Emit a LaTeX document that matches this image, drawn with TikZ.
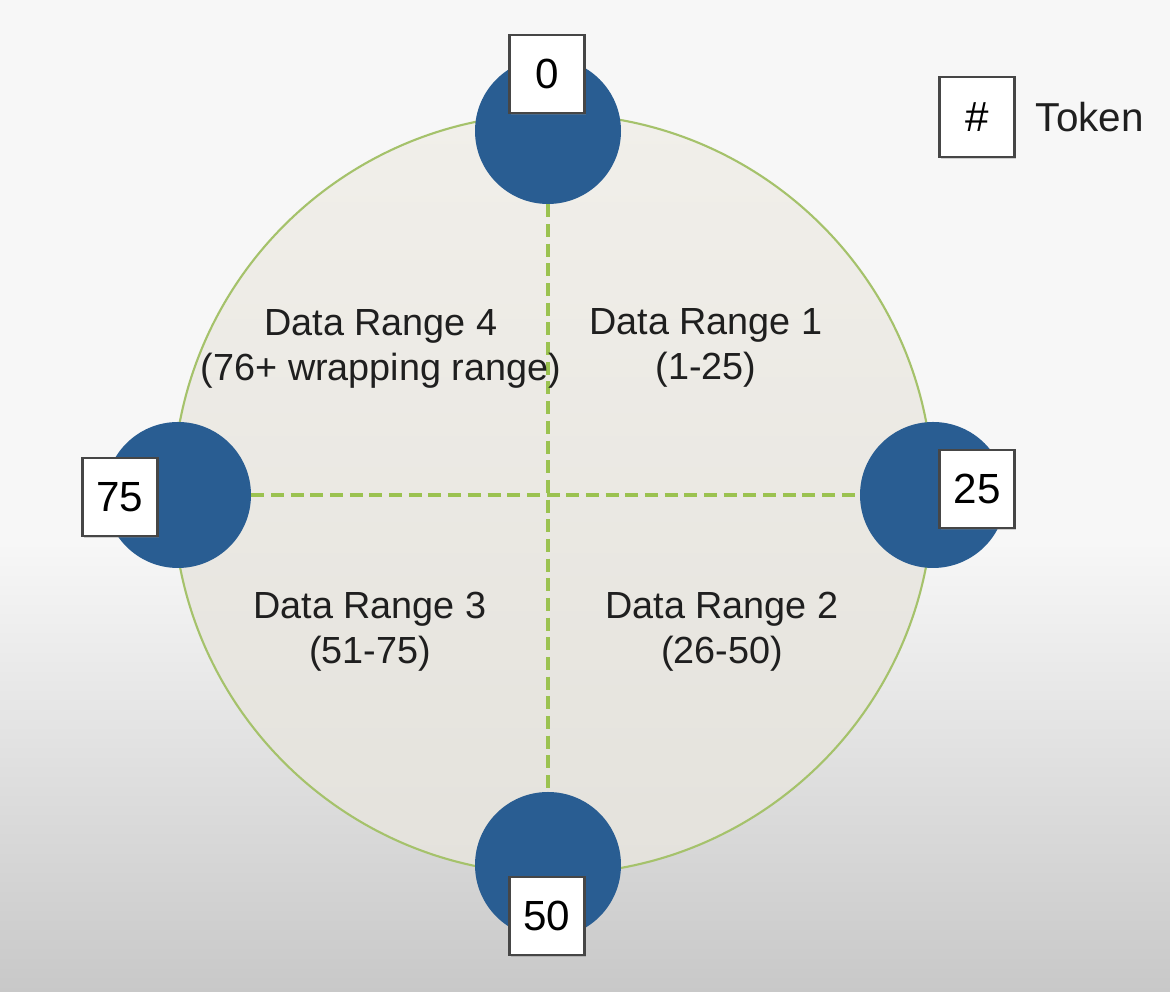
\documentclass[tikz,border=0pt]{standalone}
\usepackage{fontspec}
\setmainfont{Liberation Sans}
\usetikzlibrary{positioning,shadows}
\definecolor{bgTop}{RGB}{247,247,247}
\definecolor{bgLow}{RGB}{200,200,200}
\definecolor{ringTop}{RGB}{241,239,234}
\definecolor{ringLow}{RGB}{228,226,220}
\definecolor{ringLine}{RGB}{165,194,107}
\definecolor{cDash}{RGB}{155,194,80}
\definecolor{cNode}{RGB}{41,93,146}
\definecolor{cBox}{RGB}{70,70,70}
\tikzset{
  vnode/.style={circle,fill=cNode,minimum size=2.92cm,inner sep=0pt},
  tokbox/.style={draw=cBox,line width=1.2pt,fill=white,minimum width=1.5cm,minimum height=1.56cm,
    inner sep=0pt,font=\fontsize{24}{28}\selectfont,
    drop shadow={opacity=0.35,shadow xshift=0.7pt,shadow yshift=-0.9pt}},
  rangetext/.style={align=center,font=\fontsize{21.5}{25.6}\selectfont,text=black!88},
  dashline/.style={cDash,line width=2.8pt,dash pattern=on 7.4pt off 3.8pt},
}

\begin{document}
\begin{tikzpicture}
  \useasboundingbox (0,0) rectangle (23.4,19.84);
  % backdrop, light on top and greyer towards the bottom
  \fill[bgTop] (0,0) rectangle (23.4,19.84);
  \shade[top color=bgTop,bottom color=bgLow] (0,0) rectangle (23.4,9);
  % the ring
  \shade[top color=ringTop,bottom color=ringLow,draw=ringLine,line width=1.2pt]
    (11.06,9.96) circle (7.6);
  % token holders on the ring
  \node[vnode] (n0)  at (10.96,17.22) {};
  \node[vnode] (n25) at (18.66,9.94) {};
  \node[vnode] (n50) at (10.96,2.54) {};
  \node[vnode] (n75) at (3.56,9.94) {};
  % range borders
  \draw[dashline] (n75) -- (n25);
  \draw[dashline] (n0) -- (n50);
  % token values
  \node[tokbox] (t0)  at (10.94,18.36) {0};
  \node[tokbox] (t25) at (19.54,10.06) {25};
  \node[tokbox] (t50) at (10.94,1.52) {50};
  \node[tokbox] (t75) at (2.40,9.90) {75};
  % data ranges
  \node[rangetext] (r1) at (14.12,12.89) {Data Range 1\\(1-25)};
  \node[rangetext] (r2) at (14.44,7.21) {Data Range 2\\(26-50)};
  \node[rangetext] (r3) at (7.40,7.21) {Data Range 3\\(51-75)};
  \node[rangetext] (r4) at (7.62,12.87) {Data Range 4\\(76+ wrapping range)};
  % legend
  \node[tokbox,minimum height=1.6cm] (key) at (19.54,17.50) {\#};
  \node[right=0.4cm of key,inner sep=0pt,font=\fontsize{23}{27}\selectfont,text=black!88] (keytext) {Token};
\end{tikzpicture}
\end{document}
